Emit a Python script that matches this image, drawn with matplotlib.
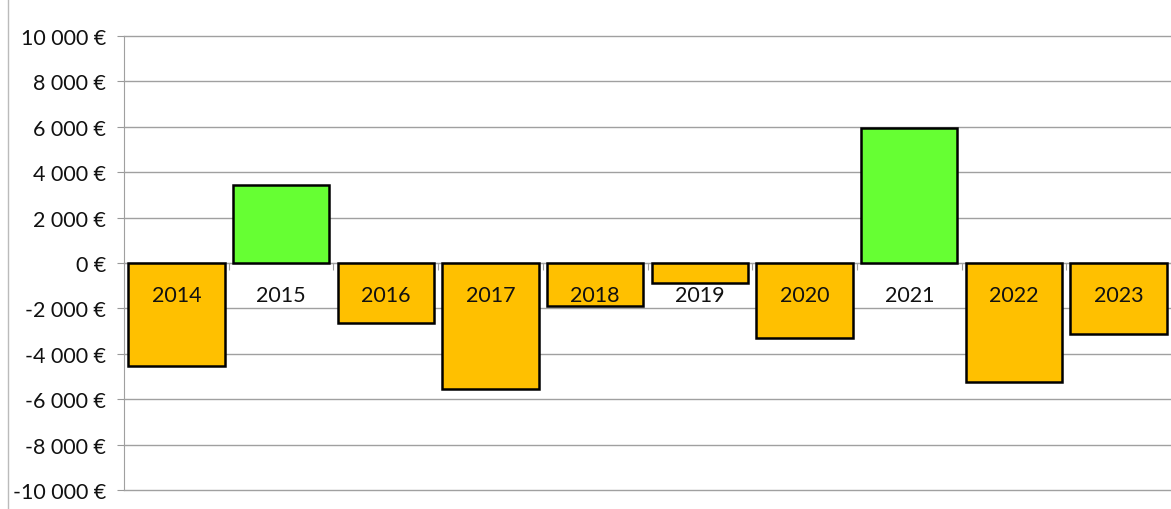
import matplotlib.pyplot as plt
from matplotlib.lines import Line2D
from matplotlib.ticker import FuncFormatter, MultipleLocator

years = ["2014", "2015", "2016", "2017", "2018", "2019", "2020", "2021", "2022", "2023"]
values = [-4540, 3440, -2640, -5550, -1890, -880, -3300, 5950, -5240, -3130]

plt.rcParams['font.family'] = ['Lato', 'DejaVu Sans']

fig = plt.figure(figsize=(11.71, 5.10), dpi=100)
ax = fig.add_axes([124 / 1171, 1 - 491 / 510, 1 - 124 / 1171, (491 - 37) / 510])

colors = ['#66FF33' if v > 0 else '#FFC000' for v in values]
x = list(range(len(years)))
ax.bar(x, values, width=0.92, color=colors, edgecolor='black', linewidth=1.8, zorder=3)

# year labels just under the zero line, on top of the bars
for i, y in enumerate(years):
    ax.text(i, -1400, y, ha='center', va='center', fontsize=15.5, color='#111111', zorder=5)

ax.set_xlim(-0.5, len(years) - 0.5)
ax.set_ylim(-10000, 10000)
ax.yaxis.set_major_locator(MultipleLocator(2000))


def euro(v, pos):
    s = f"{abs(int(v)):,}".replace(",", " ")
    return ("-" if v < 0 else "") + s + " €"


ax.yaxis.set_major_formatter(FuncFormatter(euro))
ax.tick_params(axis='y', labelsize=15.5, length=5, color='#999999', pad=8, labelcolor='#111111')
ax.grid(axis='y', color='#A0A0A0', linewidth=1, zorder=0)
ax.set_axisbelow(True)
for gl in ax.get_ygridlines():
    gl.set_clip_on(False)

# x axis on the zero line, tick marks between categories
ax.spines['bottom'].set_position(('data', 0))
ax.spines['bottom'].set_color('#A0A0A0')
ax.spines['left'].set_color('#A0A0A0')
ax.spines['top'].set_visible(False)
ax.spines['right'].set_visible(False)
ax.set_xticks([i + 0.5 for i in range(len(years) - 1)])
ax.set_xticklabels([])
ax.tick_params(axis='x', length=5, color='#A0A0A0', direction='out')

fig.add_artist(Line2D([8 / 1171, 8 / 1171], [0, 1], color='#BBBBBB', linewidth=1))

fig.savefig('out.png', dpi=100)
